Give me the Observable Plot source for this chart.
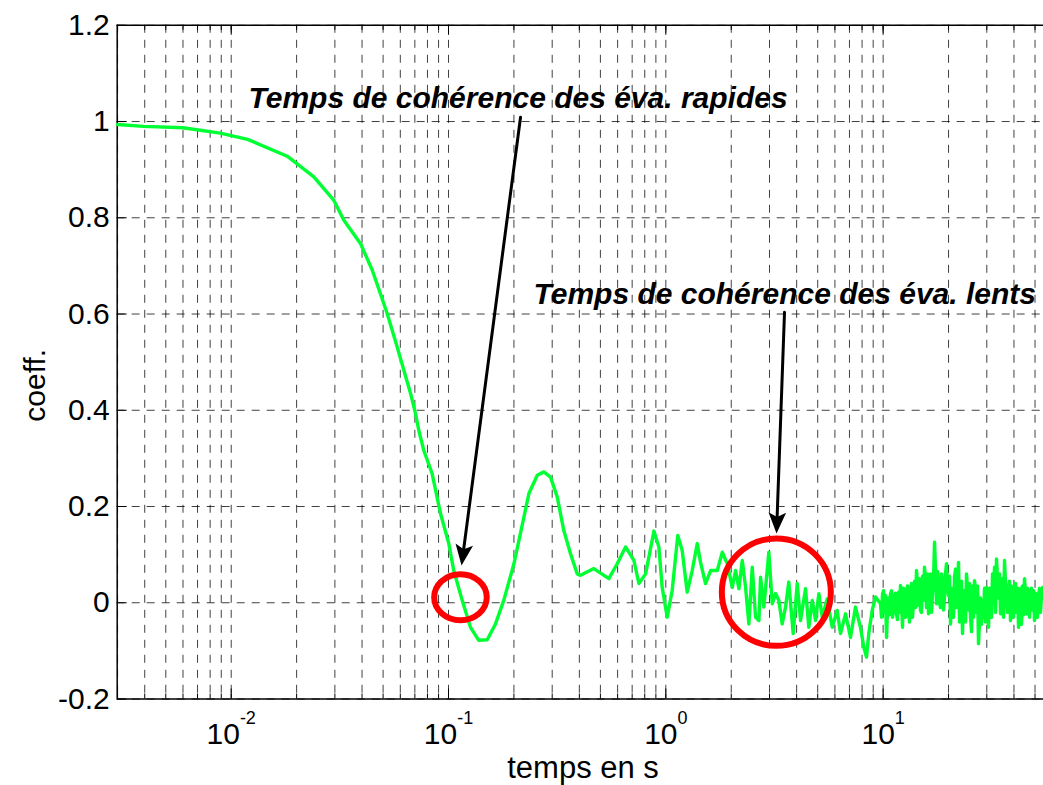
<!DOCTYPE html>
<html>
<head>
<meta charset="utf-8">
<script src="https://cdn.jsdelivr.net/npm/d3@7"></script>
<script src="https://cdn.jsdelivr.net/npm/@observablehq/plot@0.6"></script>
<style>
  html, body { margin: 0; padding: 0; background: #fff; }
  #chart svg { display: block; }
</style>
</head>
<body>
<div id="chart"></div>
<script>
// ---- data ----
const times = [
  0.0030, 0.00395, 0.0060, 0.0089, 0.0119, 0.0181, 0.0240, 0.0297, 0.0330, 0.0394,
  0.0446, 0.0486, 0.0522, 0.0581, 0.0623, 0.0669, 0.0705, 0.0730, 0.0769, 0.0841,
  0.0919, 0.1003, 0.1057, 0.1156, 0.1262, 0.1378, 0.1507, 0.1645, 0.1796, 0.2000,
  0.2223, 0.2344, 0.2561, 0.2746, 0.2947, 0.3164, 0.3393, 0.3643, 0.3911, 0.4049,
  0.4663, 0.5468, 0.5974, 0.6527, 0.7129, 0.7516, 0.8072, 0.8815, 0.929, 0.962,
  1.015, 1.070, 1.135, 1.189, 1.254, 1.323, 1.395, 1.445, 1.523, 1.607,
  1.725, 1.819, 1.918, 2.022, 2.094, 2.169, 2.248, 2.328, 2.411, 2.499,
  2.588, 2.681, 2.729, 2.826, 2.979, 3.088, 3.198, 3.311, 3.432, 3.555,
  3.681, 3.855, 4.024, 4.168, 4.395, 4.550, 4.718, 4.886, 5.060, 5.245,
  5.530, 5.830, 6.146, 6.366, 6.713, 7.077, 7.461, 7.866, 8.146, 8.386,
  8.588, 8.906, 9.226,
  9.727, 9.831, 9.935, 10.04, 10.15, 10.26, 10.37, 10.48, 10.59, 10.70,
  10.81, 10.93, 11.05, 11.17, 11.28, 11.40, 11.52, 11.64, 11.77, 11.90,
  12.02, 12.15, 12.28, 12.41, 12.54, 12.67, 12.81, 12.95, 13.09, 13.23,
  13.37, 13.51, 13.65, 13.80, 13.95, 14.10, 14.24, 14.39, 14.55, 14.71,
  14.86, 15.02, 15.18, 15.34, 15.50, 15.67, 15.84, 16.01, 16.18, 16.35,
  16.52, 16.70, 16.88, 17.06, 17.24, 17.42, 17.61, 17.80, 17.98, 18.17,
  18.37, 18.57, 18.76, 18.96, 19.16, 19.36, 19.57, 19.78, 19.99, 20.20,
  20.42, 20.64, 20.86, 21.08, 21.31, 21.54, 21.76, 21.99, 22.23, 22.47,
  22.70, 22.94, 23.19, 23.44, 23.69, 23.94, 24.19, 24.45, 24.71, 24.97,
  25.24, 25.51, 25.78, 26.05, 26.33, 26.61, 26.90, 27.19, 27.47, 27.76,
  28.06, 28.36, 28.66, 28.97, 29.28, 29.59, 29.91, 30.23, 30.55, 30.88,
  31.20, 31.53, 31.87, 32.21, 32.55, 32.90, 33.25, 33.60, 33.96, 34.32,
  34.69, 35.06, 35.43, 35.81, 36.19, 36.58, 36.96, 37.35, 37.76, 38.16,
  38.56, 38.97, 39.39, 39.81, 40.23, 40.66, 41.10, 41.54, 41.98, 42.43,
  42.88, 43.34, 43.79, 44.26, 44.73, 45.21, 45.69, 46.18, 46.67, 47.17,
  47.67, 48.18, 48.69, 49.21, 49.73, 50.26, 50.80, 51.34, 51.88, 52.43,
  53.00, 53.56, 54.13
];
const coeffs = [
  0.994, 0.990, 0.987, 0.976, 0.963, 0.928, 0.885, 0.836, 0.795, 0.746,
  0.691, 0.642, 0.601, 0.531, 0.483, 0.435, 0.393, 0.358, 0.317, 0.268,
  0.185, 0.123, 0.067, 0.005, -0.051, -0.078, -0.077, -0.044, 0.005, 0.081,
  0.178, 0.227, 0.265, 0.272, 0.261, 0.220, 0.150, 0.102, 0.060, 0.057,
  0.071, 0.050, 0.081, 0.116, 0.088, 0.040, 0.060, 0.149, 0.116, 0.032,
  -0.030, 0.026, 0.140, 0.109, 0.022, 0.067, 0.123, 0.084, 0.040, 0.067,
  0.067, 0.105, 0.081, 0.032, 0.067, 0.029, 0.088, 0.032, -0.044, 0.074,
  -0.030, -0.037, 0.053, -0.009, 0.105, -0.002, 0.019, 0.005, -0.044, -0.009,
  0.043, -0.064, 0.040, -0.037, 0.029, -0.051, 0.005, -0.037, 0.019, -0.030,
  0.008, -0.051, -0.016, -0.064, -0.023, -0.072, -0.009, -0.051, -0.092, -0.113,
  -0.064, -0.016, 0.012,
  -0.002, -0.030, 0.018, 0.025, -0.020, 0.015, -0.072, -0.010, 0.010, -0.025,
  0.019, 0.025, -0.030, -0.015, 0.012, 0.020, -0.023, -0.035, 0.022, -0.020,
  0.036, 0.010, -0.051, 0.030, 0.010, -0.030, 0.026, 0.035, -0.020, -0.040,
  0.030, 0.040, -0.030, 0.000, 0.045, -0.010, 0.067, 0.040, -0.005, 0.050,
  -0.016, -0.020, 0.055, 0.005, 0.074, 0.050, -0.010, 0.060, -0.023, -0.010,
  0.060, -0.020, 0.020, 0.050, 0.126, 0.070, -0.002, 0.065, 0.040, 0.000,
  -0.010, 0.060, 0.043, -0.015, 0.010, 0.060, 0.081, 0.030, 0.015, 0.055,
  -0.044, 0.010, 0.030, -0.030, 0.053, 0.070, -0.010, 0.035, 0.084, -0.040,
  0.020, 0.045, -0.064, 0.015, 0.025, -0.040, 0.060, 0.030, -0.015, 0.040,
  -0.030, -0.060, 0.035, -0.030, 0.046, 0.030, -0.020, 0.035, -0.085, -0.040,
  0.010, -0.045, 0.005, -0.030, 0.030, -0.040, 0.032, 0.020, -0.051, 0.030,
  0.020, -0.030, 0.060, 0.000, 0.074, -0.020, 0.091, 0.050, 0.010, 0.060,
  -0.023, 0.020, 0.050, -0.030, 0.088, 0.040, 0.012, -0.020, 0.030, 0.045,
  -0.037, 0.035, 0.020, -0.030, 0.026, 0.040, -0.020, 0.030, -0.051, -0.010,
  0.030, -0.045, 0.035, -0.025, 0.050, 0.020, -0.023, 0.030, 0.010, -0.030,
  0.026, 0.030, -0.015, 0.025, -0.037, 0.020, 0.000, -0.030, 0.012, 0.030,
  -0.020, 0.015, 0.032
];

const xDomain = [0.002988, 54.7];
const yDomain = [-0.2, 1.2];
const xGridValues = [
  0.003, 0.004, 0.005, 0.006, 0.007, 0.008, 0.009,
  0.01, 0.02, 0.03, 0.04, 0.05, 0.06, 0.07, 0.08, 0.09,
  0.1, 0.2, 0.3, 0.4, 0.5, 0.6, 0.7, 0.8, 0.9,
  1, 2, 3, 4, 5, 6, 7, 8, 9,
  10, 20, 30, 40, 50
];
const xMajorTicks = [0.01, 0.1, 1, 10];
const xTickExponents = ["-2", "-1", "0", "1"];
const yTicks = [-0.2, 0, 0.2, 0.4, 0.6, 0.8, 1, 1.2];
const yTickLabels = ["-0.2", "0", "0.2", "0.4", "0.6", "0.8", "1", "1.2"];

const xLabel = "temps en s";
const yLabel = "coeff.";

const annotationTexts = ["Temps de cohérence des éva. rapides", "Temps de cohérence des éva. lents"];
const annotationT = [0.01201, 0.2461];
const annotationC = [1.0476, 0.641];

const arrowFromT = [0.2145, 3.517];
const arrowFromC = [1.009, 0.6035];
const arrowToT = [0.1148, 3.232];
const arrowToC = [0.0775, 0.144];

const circleT = [0.1135, 3.225];
const circleC = [0.0116, 0.022];

// ---- layout ----
const W = 1043, H = 785;
const mL = 116.7, mR = 0, mT = 24.8, mB = 86.5;
const frameH = H - mT - mB, frameW = W - mL - mR;

const series = times.map((t, i) => ({t, c: coeffs[i]}));
const annotations = annotationTexts.map((text, i) => ({text, t: annotationT[i], c: annotationC[i]}));
const arrows = arrowFromT.map((_, i) => ({x1: arrowFromT[i], y1: arrowFromC[i], x2: arrowToT[i], y2: arrowToC[i]}));
const circles = circleT.map((t, i) => ({t, c: circleC[i]}));

// ellipse outline symbol (rx from the dot radius, ry = rx * ratio)
function ellipseSymbol(ratio) {
  return {
    draw(ctx, size) {
      const rx = Math.sqrt(size / Math.PI), ry = rx * ratio, k = 0.5522847498;
      ctx.moveTo(rx, 0);
      ctx.bezierCurveTo(rx, ry * k, rx * k, ry, 0, ry);
      ctx.bezierCurveTo(-rx * k, ry, -rx, ry * k, -rx, 0);
      ctx.bezierCurveTo(-rx, -ry * k, -rx * k, -ry, 0, -ry);
      ctx.bezierCurveTo(rx * k, -ry, rx, -ry * k, rx, 0);
      ctx.closePath();
    }
  };
}
// filled arrow head pointing down, tip at the origin (length from dot radius)
const arrowHeadSymbol = {
  draw(ctx, size) {
    const L = Math.sqrt(size / Math.PI);
    ctx.moveTo(0, 0);
    ctx.lineTo(-0.42 * L, -L);
    ctx.lineTo(0, -0.78 * L);
    ctx.lineTo(0.42 * L, -L);
    ctx.closePath();
  }
};

const gridStyle = {stroke: "#000", strokeOpacity: 0.75, strokeWidth: 1, strokeDasharray: "8,7"};
const font = "'Liberation Sans', Arial, Helvetica, sans-serif";

const plot = Plot.plot({
  width: W, height: H,
  marginLeft: mL, marginRight: mR, marginTop: mT, marginBottom: mB,
  style: {fontFamily: font, background: "#fff", color: "#000", overflow: "visible"},
  x: {type: "log", domain: xDomain},
  y: {domain: yDomain},
  marks: [
    Plot.ruleX(xGridValues, gridStyle),
    Plot.ruleY(yTicks, gridStyle),
    Plot.tickX(xGridValues, {x: d => d, insetTop: frameH - 5, stroke: "#000"}),
    Plot.tickX(xGridValues, {x: d => d, insetBottom: frameH - 5, stroke: "#000"}),
    Plot.tickX(xMajorTicks, {x: d => d, insetTop: frameH - 10, stroke: "#000"}),
    Plot.tickX(xMajorTicks, {x: d => d, insetBottom: frameH - 10, stroke: "#000"}),
    Plot.tickY(yTicks, {y: d => d, insetRight: frameW - 10, stroke: "#000"}),
    Plot.ruleY([yDomain[0], yDomain[1]], {stroke: "#000", strokeWidth: 1.5}),
    Plot.ruleX([xDomain[0]], {stroke: "#000", strokeWidth: 1.5}),
    Plot.line(series, {x: "t", y: "c", stroke: "#00ff33", strokeWidth: 3.4, strokeLinejoin: "round"}),
    Plot.dot(circles.slice(0, 1), {x: "t", y: "c", r: 26.3, symbol: ellipseSymbol(0.875), stroke: "#ff0000", strokeWidth: 6, fill: "none"}),
    Plot.dot(circles.slice(1, 2), {x: "t", y: "c", r: 54.5, symbol: ellipseSymbol(0.985), stroke: "#ff0000", strokeWidth: 6, fill: "none"}),
    Plot.arrow(arrows, {x1: "x1", y1: "y1", x2: "x2", y2: "y2", stroke: "#000", strokeWidth: 3, headLength: 0, insetEnd: 9}),
    Plot.dot(arrows.slice(0, 1), {x: "x2", y: "y2", r: 21, symbol: arrowHeadSymbol, rotate: 7.5, fill: "#000", stroke: "none"}),
    Plot.dot(arrows.slice(1, 2), {x: "x2", y: "y2", r: 21, symbol: arrowHeadSymbol, rotate: 2.1, fill: "#000", stroke: "none"}),
    Plot.text(annotations, {x: "t", y: "c", text: "text", textAnchor: "start", fontSize: 30, fontWeight: "bold", fontStyle: "italic", fill: "#000"}),
    Plot.axisY({ticks: yTicks, tickSize: 0, tickPadding: 7.5, fontSize: 30, tickFormat: d => yTickLabels[yTicks.indexOf(d)], label: null}),
    Plot.axisX({ticks: xMajorTicks, tickSize: 0, tickPadding: 23.5, fontSize: 30, tickFormat: d => xTickExponents[xMajorTicks.indexOf(d)], label: null}),
    Plot.text([xLabel], {x: () => 0.4159, y: () => -0.3432, text: d => d, fontSize: 31, fill: "#000"}),
    Plot.text([yLabel], {x: () => 0.001257, y: () => 0.452, text: d => d, rotate: -90, fontSize: 30, fill: "#000"})
  ]
});

// superscript exponents for the log tick labels (10^n)
const NS = "http://www.w3.org/2000/svg";
plot.querySelectorAll('[aria-label="x-axis tick label"] text').forEach(t => {
  const exp = t.textContent;
  t.textContent = "";
  const base = document.createElementNS(NS, "tspan");
  base.textContent = "10";
  const sup = document.createElementNS(NS, "tspan");
  sup.setAttribute("dy", "-20");
  sup.setAttribute("font-size", "18");
  sup.textContent = exp;
  t.append(base, sup);
});

document.getElementById("chart").append(plot);
</script>
</body>
</html>
